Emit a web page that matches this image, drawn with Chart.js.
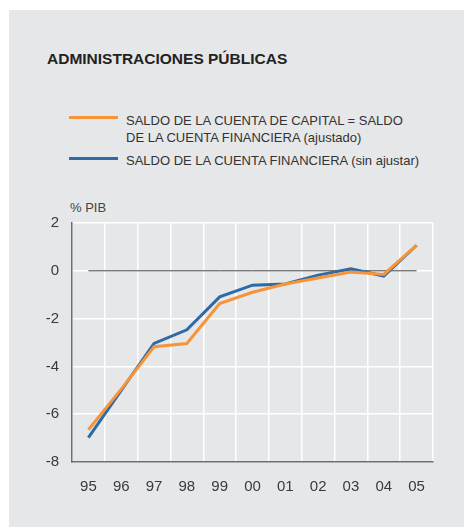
<!DOCTYPE html>
<html>
<head>
<meta charset="utf-8">
<script src="https://cdn.jsdelivr.net/npm/chart.js@4/dist/chart.umd.min.js"></script>
<style>
  html, body { margin:0; padding:0; background:#ffffff; }
  body { width:464px; height:527px; position:relative; overflow:hidden; font-family:"Liberation Sans", Arial, sans-serif; }
  #panel { position:absolute; left:9px; top:10px; right:0; bottom:0; background:#e6e7e8; }
  #chart { position:absolute; left:0; top:0; }
  .t { position:absolute; white-space:nowrap; color:#222; }
  #title { left:47px; top:51px; font-size:15.5px; line-height:15.5px; font-weight:bold; color:#222; }
  .leg { font-size:13px; line-height:13px; color:#333; left:126px; }
  .swatch { position:absolute; left:69px; width:49px; height:3px; }
  #unit { left:70px; top:200.5px; font-size:13px; line-height:13px; color:#444; }
</style>
</head>
<body>
<div id="panel"></div>
<div class="t" id="title">ADMINISTRACIONES PÚBLICAS</div>
<div class="swatch" style="top:116px;background:#f7943a;"></div>
<div class="t leg" style="top:113.8px;">SALDO DE LA CUENTA DE CAPITAL = SALDO</div>
<div class="t leg" style="top:131.3px;">DE LA CUENTA FINANCIERA (ajustado)</div>
<div class="swatch" style="top:157px;background:#2d6aa6;"></div>
<div class="t leg" style="top:154.3px;">SALDO DE LA CUENTA FINANCIERA (sin ajustar)</div>
<div class="t" id="unit">% PIB</div>
<canvas id="chart" width="464" height="527"></canvas>
<script>
const years = ['95','96','97','98','99','00','01','02','03','04','05'];
const adjusted   = [-6.65, -4.95, -3.18, -3.04, -1.37, -0.90, -0.55, -0.30, -0.05, -0.15, 1.07];
const unadjusted = [-6.98, -5.00, -3.04, -2.47, -1.09, -0.60, -0.55, -0.18,  0.08, -0.22, 1.07];
const zeroRef    = [0, 0, 0, 0, 0, 0, 0, 0, 0, 0, 0];
const yTicks = [-8, -6, -4, -2, 0, 2];

const ORANGE = '#f7943a';
const BLUE = '#2d6aa6';
const AXIS = '#6d6e70';
const tickFont = { family: '"Liberation Sans", Arial, sans-serif', size: 15 };

new Chart(document.getElementById('chart'), {
  type: 'line',
  data: {
    labels: years,
    datasets: [
      { label: 'SALDO DE LA CUENTA DE CAPITAL = SALDO DE LA CUENTA FINANCIERA (ajustado)', data: adjusted, borderColor: ORANGE, borderWidth: 3, pointRadius: 0, tension: 0, fill: false },
      { label: 'SALDO DE LA CUENTA FINANCIERA (sin ajustar)', data: unadjusted, borderColor: BLUE, borderWidth: 3, pointRadius: 0, tension: 0, fill: false },
      { label: 'cero', data: zeroRef, borderColor: '#444444', borderWidth: 1, pointRadius: 0, tension: 0, fill: false }
    ]
  },
  options: {
    responsive: false,
    animation: false,
    devicePixelRatio: 1,
    layout: { padding: { top: 223, right: 31, left: 0, bottom: 0 } },
    plugins: { legend: { display: false }, tooltip: { enabled: false }, title: { display: false } },
    scales: {
      x: {
        type: 'category',
        offset: true,
        grid: { offset: true, color: '#ffffff', lineWidth: 1.5, drawTicks: false, z: -1 },
        border: { color: AXIS, width: 1.5, z: 1 },
        ticks: { font: tickFont, color: '#3a3a3a', padding: 16, maxRotation: 0, autoSkip: false },
        afterFit(s) { s.height = 65; }
      },
      y: {
        min: -8, max: 2,
        afterBuildTicks(s) { s.ticks = yTicks.map(v => ({ value: v })); },
        grid: { color: '#ffffff', lineWidth: 1.5, drawTicks: false, z: -1 },
        border: { color: AXIS, width: 1.5, z: 1 },
        ticks: { font: tickFont, color: '#3a3a3a', padding: 13 },
        afterFit(s) { s.width = 72; }
      }
    }
  }
});
</script>
</body>
</html>
